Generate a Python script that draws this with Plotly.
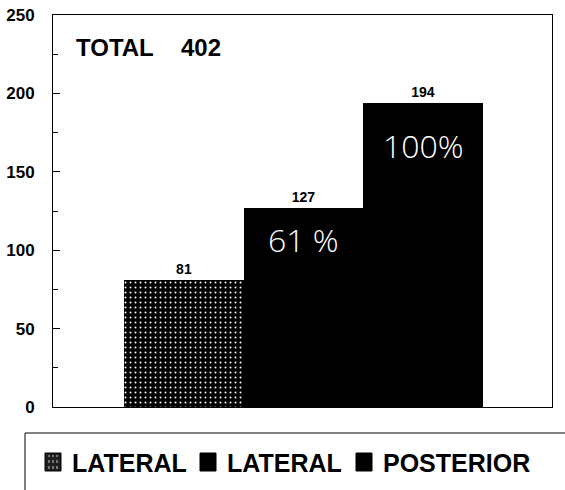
import plotly.graph_objects as go

# Chart data
categories = ["LATERAL", "LATERAL", "POSTERIOR"]
counts = [81, 127, 194]
pct_labels = ["", "61 %", "100%"]
pct_label_y = [0, 107, 167]

# Figure geometry (pixels)
W, H = 565, 490
ML, MR, MT, MB = 53, 13, 15, 83
PW, PH = W - ML - MR, H - MT - MB


def px_x(px):
    return (px - ML) / PW


def px_y(py):
    return (H - MB - py) / PH


BOLD = "Liberation Sans, Arial, sans-serif"
NARROW = "Liberation Sans Narrow, Arial Narrow, Liberation Sans, sans-serif"

styles = [
    dict(color="#000000", pattern=dict(shape=".", bgcolor="#000000", fgcolor="#ffffff",
                                       size=5, solidity=0.12, fillmode="replace")),
    dict(color="#000000"),
    dict(color="#000000"),
]

fig = go.Figure()
for i, (name, val) in enumerate(zip(categories, counts)):
    fig.add_trace(go.Bar(
        x=[i + 1], y=[val], name=name, width=1,
        marker=dict(line=dict(width=0), **styles[i]),
        text=[str(val)], textposition="outside",
        textfont=dict(family=NARROW, size=14, color="black", weight="bold"),
        cliponaxis=False, showlegend=False,
    ))

annotations = []
# Percentage labels inside the bars
for i, (lab, yv) in enumerate(zip(pct_labels, pct_label_y)):
    if lab:
        annotations.append(dict(
            x=i + 1, y=yv, xref="x", yref="y", text=lab, showarrow=False,
            font=dict(family="Open Sans, Liberation Sans, sans-serif", size=32,
                      color="white", weight=300),
            xanchor="center", yanchor="middle"))

# Total in the upper-left corner
total = sum(counts)
annotations.append(dict(x=px_x(74), y=px_y(48), xref="paper", yref="paper", text="TOTAL",
                        showarrow=False, xanchor="left", yanchor="middle",
                        font=dict(family=BOLD, size=24, color="black", weight="bold")))
annotations.append(dict(x=px_x(179), y=px_y(48), xref="paper", yref="paper", text=str(total),
                        showarrow=False, xanchor="left", yanchor="middle",
                        font=dict(family=BOLD, size=24, color="black", weight="bold")))

# Legend box drawn below the plot
shapes = [dict(type="rect", xref="paper", yref="paper",
               x0=px_x(25), x1=px_x(580), y0=px_y(433), y1=px_y(500),
               line=dict(color="black", width=1), fillcolor="rgba(0,0,0,0)", layer="above")]

icon_left = [45, 200, 356]
text_left = [70, 225, 381]
for i, name in enumerate(categories):
    x0, x1 = icon_left[i], icon_left[i] + 16
    shapes.append(dict(type="rect", xref="paper", yref="paper",
                       x0=px_x(x0), x1=px_x(x1), y0=px_y(471), y1=px_y(453),
                       line=dict(color="black", width=1),
                       fillcolor="#1e1e1e" if i == 0 else "black"))
    if i == 0:
        for k in range(3):
            xx = x0 + 4 + 4 * k
            shapes.append(dict(type="line", xref="paper", yref="paper",
                               x0=px_x(xx), x1=px_x(xx), y0=px_y(469), y1=px_y(455),
                               line=dict(color="#cccccc", width=1, dash="dot")))
    annotations.append(dict(x=px_x(text_left[i]), y=px_y(463), xref="paper", yref="paper",
                            text=name, showarrow=False, xanchor="left", yanchor="middle",
                            font=dict(family=BOLD, size=25, color="black", weight="bold")))

fig.update_layout(
    width=W, height=H,
    margin=dict(l=ML, r=MR, t=MT, b=MB, pad=0, autoexpand=False),
    paper_bgcolor="white", plot_bgcolor="white",
    barmode="overlay", bargap=0,
    showlegend=False,
    annotations=annotations, shapes=shapes,
    xaxis=dict(range=[-0.093, 4.076], showticklabels=False, ticks="",
               showgrid=False, zeroline=False, showline=True, mirror=True,
               linecolor="black", linewidth=1, fixedrange=True, automargin=False),
    yaxis=dict(range=[0, 250], tickmode="linear", tick0=0, dtick=50,
               ticks="inside", ticklen=7, tickcolor="black", tickwidth=1,
               minor=dict(ticks="inside", ticklen=5, dtick=25, tickcolor="black"),
               showgrid=False, zeroline=False, showline=True, mirror=True,
               linecolor="black", linewidth=1, ticklabelstandoff=14,
               tickfont=dict(family=BOLD, size=17, color="black", weight="bold"),
               fixedrange=True, automargin=False),
)

fig.write_html("out.html")
